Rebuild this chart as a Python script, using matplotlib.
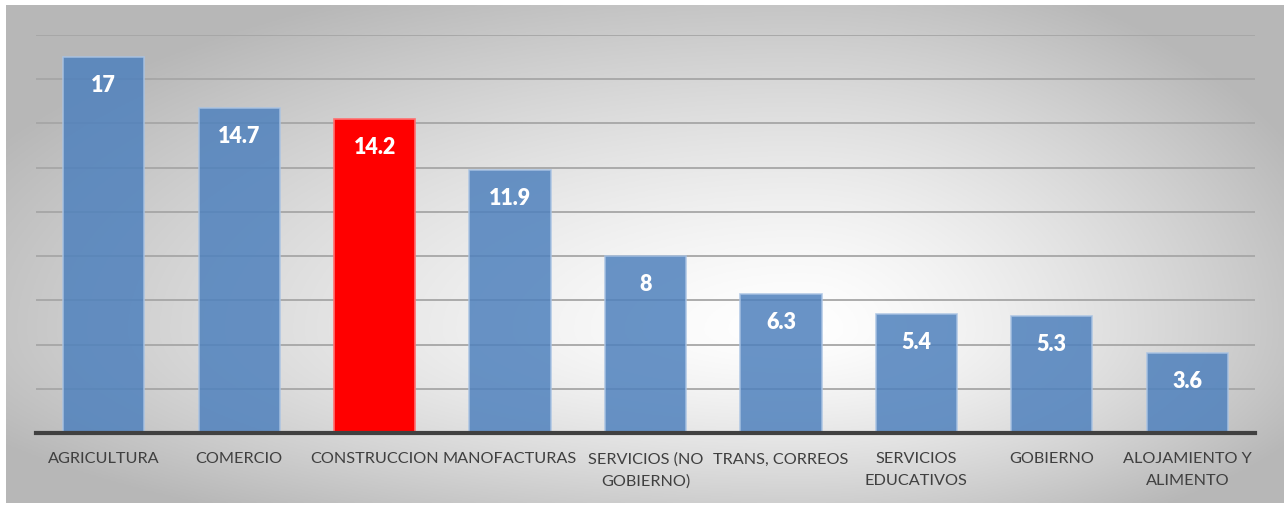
import numpy as np
import matplotlib
matplotlib.use("Agg")
import matplotlib.pyplot as plt

# Sector shares (%)
sectores = ["AGRICULTURA", "COMERCIO", "CONSTRUCCION", "MANOFACTURAS",
            "SERVICIOS (NO\nGOBIERNO)", "TRANS, CORREOS", "SERVICIOS\nEDUCATIVOS",
            "GOBIERNO", "ALOJAMIENTO Y\nALIMENTO"]
valores = [17, 14.7, 14.2, 11.9, 8, 6.3, 5.4, 5.3, 3.6]
destacado = "CONSTRUCCION"

plt.rcParams["font.family"] = ["Lato", "DejaVu Sans"]

W, H = 1284, 505
fig = plt.figure(figsize=(W / 100, H / 100), dpi=100)
fig.patch.set_facecolor("white")

# gray chart-area background with a soft light spot
bg = fig.add_axes([6 / W, 2 / H, 1 - 6 / W, 498 / H])
bg.set_axis_off()
nx, ny = 640, 250
xx, yy = np.meshgrid(np.linspace(6, W, nx), np.linspace(5, 503, ny))
cx, cy = 800, 330
dx = xx - cx
dy = yy - cy
sx = np.where(dx < 0, 800, 490)
sy = np.where(dy < 0, 330, 200)
t = np.clip(np.sqrt((dx / sx) ** 2 + (dy / sy) ** 2), 0, 1.15)
shade = 1 - 0.23 * t ** 1.4
img = np.dstack([shade, shade, shade])
bg.imshow(img, aspect="auto", extent=[0, 1, 0, 1], origin="upper")
bg.set_xlim(0, 1)
bg.set_ylim(0, 1)

ax = fig.add_axes([36 / W, (H - 433) / H, 1219 / W, 398 / H])
ax.patch.set_alpha(0)

x = np.arange(len(sectores))
colores = ["#ff0000" if s == destacado else "#4f81bd" for s in sectores]
bordes = ["#ff7070" if s == destacado else "#a9c3e3" for s in sectores]
alfas = [1.0 if s == destacado else 0.85 for s in sectores]

for xi, v, c, e, a in zip(x, valores, colores, bordes, alfas):
    ax.bar(xi, v, width=0.6, color=c, alpha=a, edgecolor=e, linewidth=1.2, zorder=3)
    ax.annotate(f"{v:g}", (xi, v), xytext=(0, -20.5), textcoords="offset points",
                ha="center", va="center", color="white", fontsize=15.5,
                fontweight="heavy", zorder=4)

ax.set_xlim(-0.5, len(sectores) - 0.5)
ax.set_ylim(0, 18)
ax.set_yticks(np.arange(2, 19, 2))
ax.yaxis.grid(True, color="#a6a6a6", linewidth=1.3, zorder=1)
ax.tick_params(axis="y", left=False, labelleft=False)
ax.set_xticks(x)
ax.set_xticklabels(sectores, fontsize=11.7, color="#404040", linespacing=1.65)
ax.tick_params(axis="x", length=0, pad=14)
for side in ["top", "right", "left"]:
    ax.spines[side].set_visible(False)
ax.spines["bottom"].set_color("#404040")
ax.spines["bottom"].set_linewidth(3)
ax.spines["bottom"].set_zorder(5)

fig.savefig("out.png", dpi=100)
